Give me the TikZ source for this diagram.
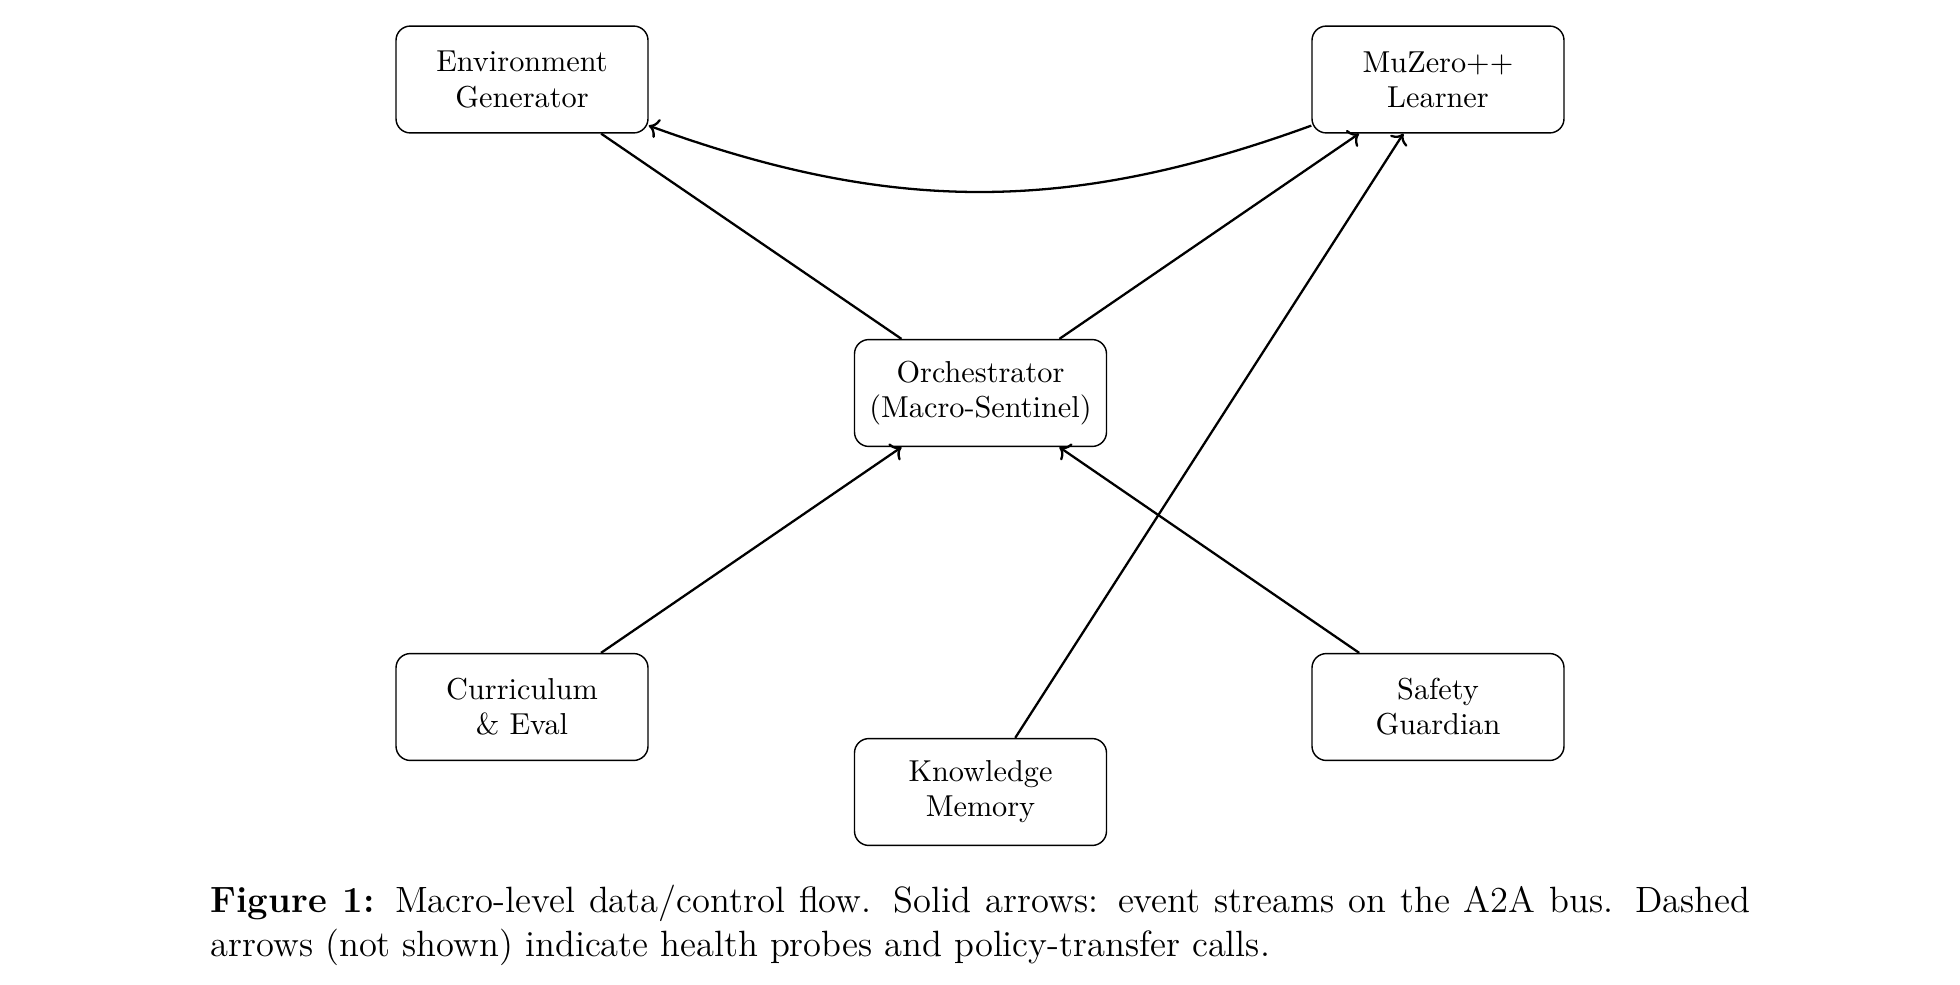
\documentclass[tikz,border=0pt]{standalone}
\usetikzlibrary{arrows.meta}
\begin{document}
\begin{tikzpicture}[x=0.35pt,y=-0.35pt,
  box/.style={draw, line width=0.5pt, rounded corners=5pt, minimum width=88.2pt, minimum height=37.4pt, align=center, inner sep=2pt, font=\fontsize{10.6}{12.3}\selectfont},
  flow/.style={->, line width=0.8pt}
]
\useasboundingbox (0,0) rectangle (1960,984);
\node[box] (env) at (522,79.5) {Environment\\Generator};
\node[box] (mu) at (1438,79.5) {MuZero++\\Learner};
\node[box] (orch) at (980.5,393) {Orchestrator\\(Macro-Sentinel)};
\node[box] (cur) at (522,707) {Curriculum\\\&\ Eval};
\node[box] (saf) at (1438,707) {Safety\\Guardian};
\node[box] (kno) at (980.5,792) {Knowledge\\Memory};

\draw[line width=0.8pt] (orch) -- (env);
\draw[flow] (orch) -- (mu);
\draw[flow] (cur) -- (orch);
\draw[flow] (saf) -- (orch);
\draw[flow] (kno) -- (mu);
\draw[flow] (mu.200) to[bend left=20] (env.-20);

\node[anchor=north west, inner sep=0pt, text width=539pt, align=justify,
  font=\fontsize{12.8}{15.4}\selectfont] (cap) at (210,884)
  {\textbf{Figure 1:} Macro-level data/control flow. Solid arrows: event streams on the A2A bus. Dashed\linebreak arrows (not shown) indicate health probes and policy-transfer calls.};
\end{tikzpicture}
\end{document}
